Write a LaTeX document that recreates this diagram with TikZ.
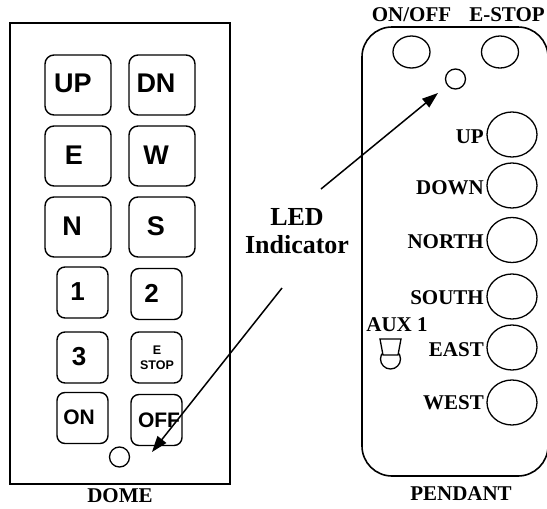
\documentclass[tikz,border=0pt]{standalone}
\usepackage{fontspec}
\setmainfont{Liberation Serif}
\setsansfont{Liberation Sans}
\usetikzlibrary{arrows.meta,shapes.geometric}
\begin{document}
\begin{tikzpicture}[x=1pt,y=-1pt,
  body/.style={line width=1.6pt},
  keyframe/.style={draw, line width=1.4pt, inner sep=0pt},
  bigkey/.style={keyframe, rounded corners=9pt, minimum width=66pt, minimum height=60pt},
  smallkey/.style={keyframe, rounded corners=8pt, minimum width=51pt, minimum height=51pt},
  keytext/.style={inner sep=0pt, font=\sffamily\bfseries\fontsize{27}{27}\selectfont},
  digittext/.style={inner sep=0pt, font=\sffamily\bfseries\fontsize{26}{26}\selectfont},
  wordtext/.style={inner sep=0pt, font=\sffamily\bfseries\fontsize{21}{21}\selectfont},
  tinytext/.style={inner sep=0pt, align=center, font=\sffamily\bfseries\fontsize{12.5}{15}\selectfont},
  lbl/.style={inner sep=0pt, font=\bfseries\fontsize{21}{21}\selectfont},
  rlbl/.style={lbl, anchor=east},
  knob/.style={draw, ellipse, line width=1.3pt, inner sep=0pt},
  bigknob/.style={knob, minimum width=50pt, minimum height=45pt},
  topknob/.style={knob, minimum width=37pt, minimum height=32pt},
  led/.style={draw, circle, line width=1.3pt, inner sep=0pt, minimum size=20pt},
  pointer/.style={line width=1.5pt, -{Triangle[length=16pt,width=11pt]}}]
\useasboundingbox (0,0) rectangle (547,509);

% DOME
\draw[body] (10,23) rectangle (230,484);
\node[bigkey] (up) at (78,85) {};
\node[bigkey] (dn) at (162,85) {};
\node[bigkey] (e) at (78,156) {};
\node[bigkey] (w) at (162,156) {};
\node[bigkey] (n) at (78,227) {};
\node[bigkey] (s) at (162,227) {};
\node[smallkey] (k1) at (82.5,292.5) {};
\node[smallkey] (k2) at (156.5,294) {};
\node[smallkey] (k3) at (82.5,357.5) {};
\node[smallkey] (kes) at (156.5,357.5) {};
\node[smallkey] (kon) at (82.5,418) {};
\node[smallkey] (koff) at (156.5,420) {};
\node[keytext] (upt) at ([shift={(-5pt,2pt)}]up.center) {UP};
\node[keytext] (dnt) at ([shift={(-6pt,2pt)}]dn.center) {DN};
\node[keytext] (et) at ([shift={(-4pt,1pt)}]e.center) {E};
\node[keytext] (wt) at ([shift={(-6pt,1pt)}]w.center) {W};
\node[keytext] (nt) at ([shift={(-6pt,1pt)}]n.center) {N};
\node[keytext] (st) at ([shift={(-6pt,1pt)}]s.center) {S};
\node[digittext] (k1t) at ([shift={(-5pt,1pt)}]k1.center) {1};
\node[digittext] (k2t) at ([shift={(-5pt,1pt)}]k2.center) {2};
\node[digittext] (k3t) at ([shift={(-3.5pt,1pt)}]k3.center) {3};
\node[tinytext] (kest) at ([shift={(0.5pt,0pt)}]kes.center) {E\\STOP};
\node[wordtext] (kont) at ([shift={(-3.5pt,1pt)}]kon.center) {ON};
\node[wordtext] (kofft) at ([shift={(2.5pt,0pt)}]koff.center) {OFF};
\node[led] (dled) at (119.5,457) {};
\node[lbl] (dome) at (120,496) {DOME};

% PENDANT
\draw[body, rounded corners=30pt] (362,27) rectangle (548,476);
\node[lbl] (lonoff) at (411.5,15) {ON/OFF};
\node[lbl] (lestop) at (507,15) {E-STOP};
\node[topknob] (bonoff) at (411.5,52) {};
\node[topknob] (bestop) at (500,52) {};
\node[led] (pled) at (455.5,79) {};
\node[bigknob] (bup) at (512,134.5) {};
\node[bigknob] (bdown) at (512,185.5) {};
\node[bigknob] (bnorth) at (512,240) {};
\node[bigknob] (bsouth) at (512,296.5) {};
\node[bigknob] (beast) at (512,347.5) {};
\node[bigknob] (bwest) at (512,402.5) {};
\node[rlbl] (lup) at (484,137) {UP};
\node[rlbl] (ldown) at (484,188) {DOWN};
\node[rlbl] (lnorth) at (484,242) {NORTH};
\node[rlbl] (lsouth) at (484,298) {SOUTH};
\node[rlbl] (least) at (484,350) {EAST};
\node[rlbl] (lwest) at (484,403) {WEST};
\node[lbl] (laux) at (397,325) {AUX 1};
\draw[line width=1.3pt, fill=white] (390.5,359) circle[radius=10];
\draw[line width=1.3pt, fill=white] (380,339) -- (401,339) -- (398,355) -- (383,355) -- cycle;
\node[lbl] (pend) at (461,494) {PENDANT};

% LED indicator
\node[inner sep=0pt, align=center, font=\bfseries\fontsize{26}{28}\selectfont] (ledtxt) at (297,231) {LED\\Indicator};
\coordinate (a1s) at (282,288);
\coordinate (a1e) at (152,452);
\coordinate (a2s) at (321,189);
\coordinate (a2e) at (438,93);
\draw[pointer] (a1s) -- (a1e);
\draw[pointer] (a2s) -- (a2e);
\end{tikzpicture}
\end{document}
